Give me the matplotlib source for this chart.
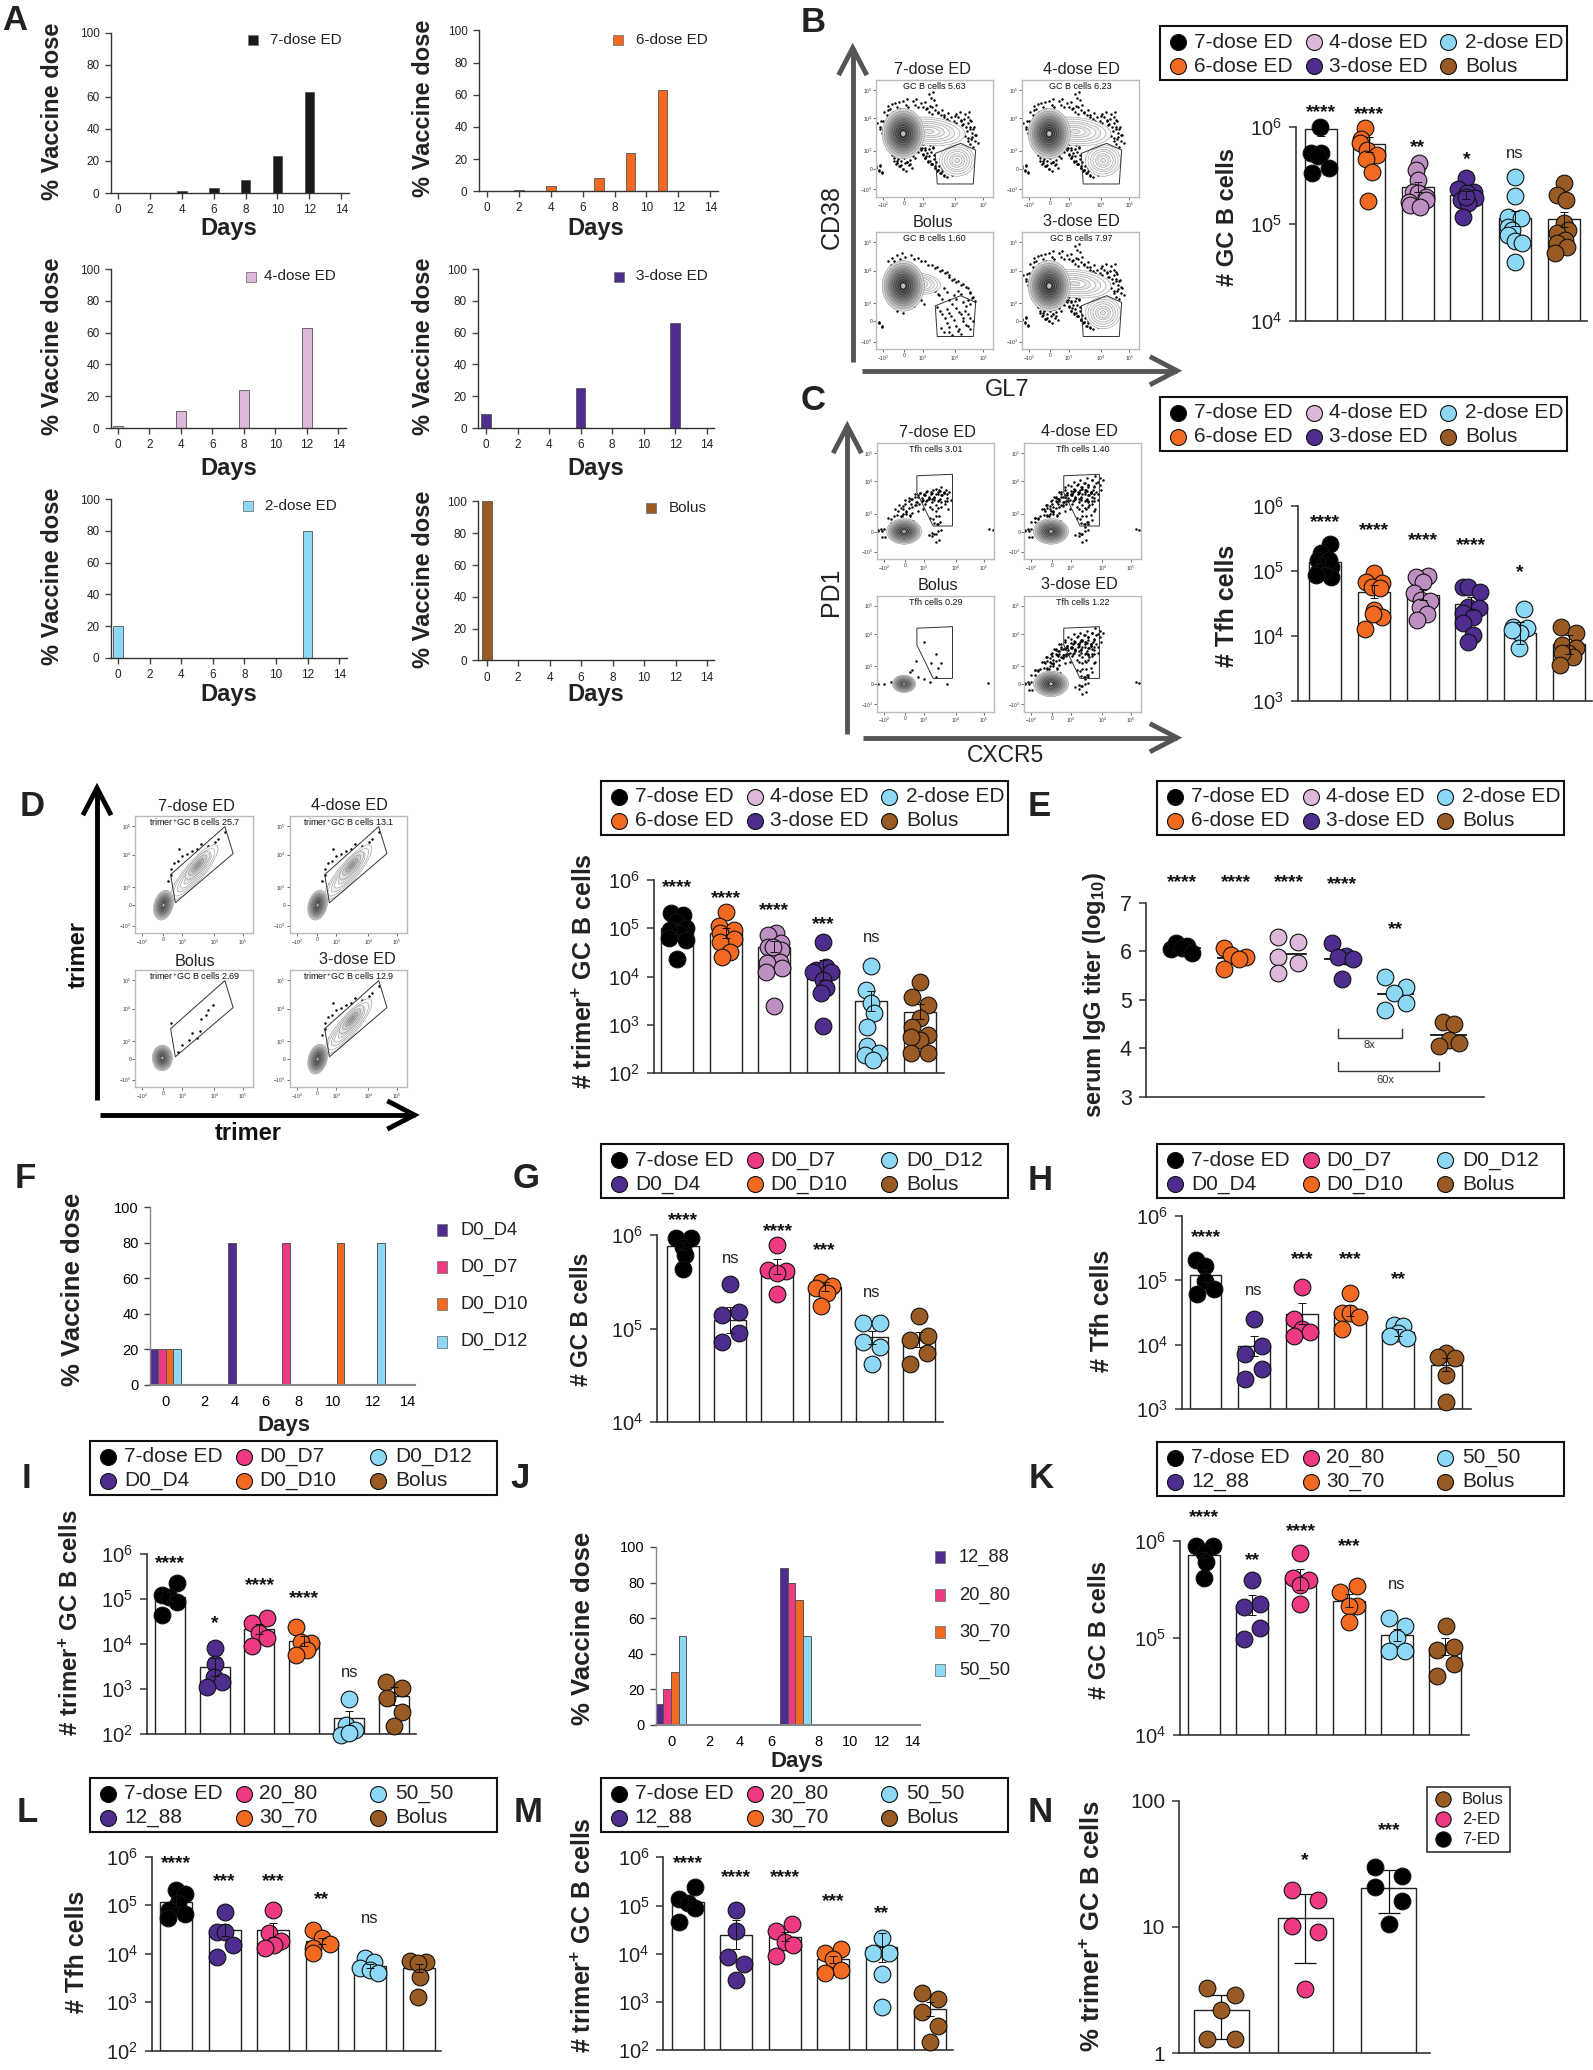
#!/usr/bin/env python3

import numpy as np
import matplotlib
matplotlib.use("Agg")
import matplotlib.pyplot as plt
from matplotlib.patches import Ellipse, Polygon, Rectangle

plt.rcParams['font.family'] = ['Liberation Sans', 'DejaVu Sans']
plt.rcParams['mathtext.fontset'] = 'custom'
plt.rcParams['mathtext.rm'] = 'Liberation Sans'
plt.rcParams['mathtext.bf'] = 'Liberation Sans:bold'
plt.rcParams['mathtext.default'] = 'regular'

W, H = 1593, 2070

BLACK = '#000000'
ORANGE = '#F26A21'
LILAC = '#BD8FC2'
LILAC_PALE = '#DDB8DA'
PURPLE = '#4F2D8F'
SKY = '#8DD8F5'
BROWN = '#9A5A24'
PINK = '#EE3A82'

# panel A, vaccine schedules
a_days = [[2, 4, 6, 8, 10, 12], [0, 2, 4, 7, 9, 11], [0, 4, 8, 12], [0, 6, 12], [0, 12], [0]]
a_dose = [[0.3, 1, 3, 8, 23, 63], [0.3, 1, 3, 8.5, 24, 63], [1.5, 11, 24, 63], [9, 25, 66], [20, 80], [100]]
a_names = ['7-dose ED', '6-dose ED', '4-dose ED', '3-dose ED', '2-dose ED', 'Bolus']
a_colors = ['#1a1a1a', ORANGE, LILAC_PALE, PURPLE, SKY, BROWN]

# panels F and J, schedules
f_names = ['D0_D4', 'D0_D7', 'D0_D10', 'D0_D12']
f_pos = [[-0.7, 3.84], [-0.22, 6.97], [0.22, 10.1], [0.66, 12.43]]
f_dose = [[20, 80], [20, 80], [20, 80], [20, 80]]
f_tick_pos = [0, 2.2, 3.98, 5.76, 7.64, 9.67, 11.96, 14]
j_names = ['12_88', '20_80', '30_70', '50_50']
j_pos = [[-0.66, 6.52], [-0.22, 6.96], [0.22, 7.41], [0.66, 7.88]]
j_dose = [[12, 88], [20, 80], [30, 70], [50, 50]]
j_tick_pos = [0, 2.21, 3.98, 5.82, 8.51, 10.35, 12.19, 14]
day_labels = [0, 2, 4, 6, 8, 10, 12, 14]

# dot and bar values, all as log10
b_mean = [5.98, 5.824, 5.386, 5.30, 5.059, 5.048]
b_sem = [0.07, 0.08, 0.05, 0.04, 0.08, 0.08]
b_dots = [[6.0, 5.738, 5.738, 5.583, 5.531, 5.70],
          [5.993, 5.876, 5.841, 5.766, 5.714, 5.669, 5.534, 5.241],
          [5.634, 5.559, 5.455, 5.328, 5.324, 5.283, 5.248, 5.231, 5.197, 5.179],
          [5.472, 5.359, 5.334, 5.317, 5.248, 5.266, 5.214, 5.283, 5.076],
          [5.483, 5.293, 5.069, 5.059, 4.972, 4.938, 4.886, 4.828, 4.8, 4.61],
          [5.428, 5.3, 5.248, 5.007, 4.938, 4.903, 4.834, 4.8, 4.766, 4.697]]
b_jit = [[-.02, -.2, 0, .17, -.18, -.05],
         [-.08, -.16, -.18, -.05, .16, -.07, .05, -.02],
         [.03, -.03, 0, -.1, 0, .16, .16, -.18, -.16, .05],
         [0, -.17, .15, .01, -.11, .18, .04, 0, -.08],
         [0, 0, -.15, .13, -.15, -.06, -.15, -.01, .15, -.01],
         [0, -.13, .05, 0, .1, -.13, .03, -.13, .08, -.18]]
b_stars = ['****', '****', '**', '*', 'ns']
b_star_h = [6.22, 6.197, 5.855, 5.738, 5.724]

c_mean = [5.136, 4.683, 4.637, 4.493, 4.04, 3.87]
c_sem = [0.08, 0.1, 0.09, 0.1, 0.17, 0.15]
c_dots = [[5.419, 5.275, 5.17, 5.12, 5.07, 4.99, 4.915, 5.02, 4.94, 5.17],
          [4.976, 4.837, 4.812, 4.76, 4.734, 4.40, 4.297, 4.338, 4.112],
          [4.925, 4.904, 4.827, 4.657, 4.554, 4.544, 4.451, 4.338, 4.245],
          [4.76, 4.75, 4.683, 4.451, 4.426, 4.348, 4.297, 4.194, 4.014, 3.90],
          [4.415, 4.132, 4.117, 4.04, 4.09, 3.808],
          [4.143, 4.04, 3.859, 3.808, 3.731, 3.68, 3.731, 3.551]]
c_jit = [[.1, -.08, -.14, 0, .12, -.14, .12, -.03, -.19, .07],
         [0, -.17, .17, -.04, .12, .01, .17, -.01, -.18],
         [.12, -.14, 0, -.18, -.03, .16, -.05, .1, -.12],
         [-.17, -.06, .17, -.06, .15, -.17, .04, -.17, .04, -.06],
         [.08, -.15, .15, 0, -.17, -.03],
         [-.16, .16, -.13, .14, -.02, .08, -.13, -.18]]
c_stars = ['****', '****', '****', '****', '*']
c_star_h = [5.851, 5.723, 5.568, 5.491, 5.079]

d_mean = [5.0, 4.897, 4.62, 4.138, 3.497, 3.276]
d_sem = [0.12, 0.1, 0.12, 0.2, 0.2, 0.15]
d_dots = [[5.324, 5.276, 5.138, 5.0, 4.966, 4.897, 4.793, 4.759, 4.366],
          [5.331, 5.048, 4.966, 4.897, 4.779, 4.724, 4.517, 4.414],
          [4.897, 4.862, 4.69, 4.62, 4.552, 4.62, 4.31, 4.276, 4.172, 4.103, 3.386],
          [4.71, 4.138, 4.207, 4.09, 4.103, 3.931, 3.759, 3.655, 2.979],
          [4.221, 3.724, 3.448, 3.241, 2.966, 2.566, 2.414, 2.379, 2.276],
          [3.897, 3.586, 3.414, 3.138, 2.966, 2.793, 2.69, 2.759, 2.414, 2.414]]
d_jit = [[-.13, .11, -.03, .17, -.16, .04, -.18, .17, 0],
         [0, -.14, .16, -.11, .16, -.11, .09, -.08],
         [.03, -.14, .14, -.14, .14, -.03, .11, -.16, .16, -.18, 0],
         [0, -.13, .07, .17, -.2, 0, .07, -.03, 0],
         [0, -.11, -.01, .05, -.08, -.08, .16, -.14, .03],
         [0, -.16, .17, 0, -.16, .17, 0, -.18, .17, -.18]]
d_stars = ['****', '****', '****', '***', 'ns']
d_star_h = [5.986, 5.759, 5.497, 5.207, 4.807]

e_mean = [6.06, 5.866, 5.935, 5.845, 5.124, 4.271]
e_dots = [[6.045, 6.16, 6.113, 6.06, 5.969],
          [6.058, 5.921, 5.873, 5.832, 5.625],
          [6.285, 6.196, 5.887, 5.749, 5.543],
          [6.175, 5.907, 5.887, 5.838, 5.419],
          [5.474, 5.254, 5.131, 4.938, 4.787],
          [4.546, 4.498, 4.168, 4.1, 4.052]]
e_jit = [[-.21, -.11, .08, -.01, .18],
         [-.21, -.08, .19, .06, -.21],
         [-.21, .17, -.21, .17, -.21],
         [-.2, .07, -.07, .2, -.01],
         [-.19, .19, -.02, .19, -.19],
         [-.11, .09, 0, .2, -.18]]
e_stars = ['****', '****', '****', '****', '**']
e_star_h = [7.55, 7.55, 7.55, 7.50, 6.574]

g_mean = [5.883, 5.09, 5.662, 5.448, 4.907, 4.879]
g_sem = [0.04, 0.14, 0.08, 0.05, 0.07, 0.08]
g_dots = [[5.964, 5.964, 5.875, 5.786, 5.633],
          [5.477, 5.181, 5.146, 4.957, 4.861],
          [5.893, 5.626, 5.619, 5.59, 5.367],
          [5.502, 5.459, 5.431, 5.384, 5.246],
          [5.064, 5.064, 4.861, 4.808, 4.619],
          [5.139, 4.879, 4.922, 4.737, 4.619]]
g_jit = [[-.15, .16, .01, .05, -.01],
         [0, .18, -.18, .18, -.18],
         [-.01, -.19, .18, -.01, -.01],
         [-.07, .16, -.18, .05, -.07],
         [-.19, .18, -.19, .18, 0],
         [0, -.19, .19, .16, -.19]]
g_stars = ['****', 'ns', '****', '***', 'ns']
g_star_h = [6.221, 5.751, 6.107, 5.9, 5.388]

h_mean = [5.08, 3.983, 4.485, 4.531, 4.195, 3.693]
h_sem = [0.1, 0.16, 0.16, 0.09, 0.05, 0.1]
h_dots = [[5.318, 5.224, 4.997, 4.868, 4.785],
          [4.397, 3.983, 3.854, 3.626, 3.471],
          [4.904, 4.397, 4.247, 4.205, 4.138],
          [4.8, 4.5, 4.5, 4.428, 4.247],
          [4.309, 4.293, 4.18, 4.138, 4.102],
          [3.869, 3.807, 3.792, 3.533, 3.109]]
h_jit = [[-.2, 0, 0, .17, -.18],
         [0, .17, -.17, .17, -.17],
         [0, -.17, 0, .18, -.17],
         [0, -.17, 0, .18, -.17],
         [-.09, .1, 0, -.17, .18],
         [0, -.17, .17, 0, 0]]
h_stars = ['****', 'ns', '***', '***', '**']
h_star_h = [5.773, 4.837, 5.431, 5.431, 5.111]

i_mean = [5.06, 3.504, 4.341, 4.074, 2.356, 2.852]
i_sem = [0.1, 0.2, 0.12, 0.12, 0.16, 0.2]
i_dots = [[5.356, 5.096, 5.06, 4.948, 4.652],
          [3.911, 3.556, 3.281, 3.156, 3.044],
          [4.593, 4.467, 4.244, 4.133, 3.963],
          [4.378, 4.022, 4.059, 3.874, 3.763],
          [2.793, 2.207, 2.096, 1.985, 2.02],
          [3.156, 3.037, 2.8, 2.504, 2.185]]
i_jit = [[.17, -.16, -.01, .17, -.18],
         [0, 0, -.01, .17, -.17],
         [.17, -.17, 0, .17, -.17],
         [-.18, .14, -.07, .06, -.18],
         [-.01, -.07, .14, -.18, 0],
         [-.18, .17, -.16, .17, 0]]
i_stars = ['****', '*', '****', '****', 'ns']
i_star_h = [5.933, 4.615, 5.459, 5.17, 3.378]

k_mean = [5.855, 5.339, 5.604, 5.384, 5.029, 4.909]
k_sem = [0.03, 0.1, 0.11, 0.07, 0.06, 0.09]
k_dots = [[5.948, 5.948, 5.873, 5.787, 5.621],
          [5.597, 5.349, 5.322, 5.098, 4.988],
          [5.873, 5.614, 5.597, 5.546, 5.349],
          [5.539, 5.47, 5.332, 5.329, 5.167],
          [5.208, 5.122, 5.002, 4.867, 4.867],
          [5.122, 4.909, 4.874, 4.726, 4.606]]
k_jit = [[-.17, .18, .01, .05, .01],
         [0, .17, -.17, .17, -.17],
         [0, -.16, .17, 0, 0],
         [.17, -.17, .17, 0, 0],
         [-.17, .17, 0, -.17, .17],
         [.01, .18, -.17, .18, -.17]]
k_stars = ['****', '**', '****', '***', 'ns']
k_star_h = [6.31, 5.862, 6.165, 6.01, 5.552]

l_mean = [5.072, 4.488, 4.488, 4.261, 3.753, 3.698]
l_sem = [0.1, 0.12, 0.14, 0.07, 0.04, 0.08]
l_dots = [[5.313, 5.23, 5.038, 4.9, 4.818, 4.742],
          [4.859, 4.454, 4.454, 4.179, 3.938],
          [4.9, 4.419, 4.268, 4.179, 4.124],
          [4.488, 4.33, 4.199, 4.11, 4.007],
          [3.904, 3.835, 3.698, 3.663, 3.595],
          [3.856, 3.835, 3.801, 3.526, 3.1]]
l_jit = [[-.01, .18, .05, -.14, .18, -.17],
         [0, -.16, 0, .17, -.16],
         [-.01, -.08, .16, .03, -.17],
         [-.17, 0, .18, -.17, -.17],
         [-.11, .09, -.2, 0, .17],
         [-.17, .16, -.01, .03, -.01]]
l_stars = ['****', '***', '***', '**', 'ns']
l_star_h = [6.0, 5.622, 5.622, 5.244, 4.722]

m_mean = [5.081, 4.397, 4.356, 3.886, 4.135, 2.857]
m_sem = [0.1, 0.3, 0.1, 0.07, 0.3, 0.15]
m_dots = [[5.392, 5.13, 5.06, 4.943, 4.667],
          [4.908, 4.473, 3.928, 3.782, 3.458],
          [4.618, 4.48, 4.252, 4.183, 3.962],
          [4.093, 4.01, 3.886, 3.665, 3.596],
          [4.335, 4.024, 4.024, 3.582, 2.891],
          [3.181, 3.057, 2.801, 2.511, 2.18]]
m_jit = [[.16, -.17, 0, .16, -.17],
         [0, 0, -.16, .16, 0],
         [.16, -.18, 0, .17, -.18],
         [.16, -.17, 0, .16, -.17],
         [0, -.17, .16, 0, 0],
         [-.17, .16, -.17, .16, 0]]
m_stars = ['****', '****', '****', '***', '**']
m_star_h = [6.0, 5.717, 5.717, 5.219, 4.964]

n_mean = [0.34, 1.069, 1.311]
n_err_lo = [0.111, 0.718, 1.113]
n_err_hi = [0.465, 1.261, 1.449]
n_dots = [[.52, .459, .34, .116, .116],
          [1.293, 1.214, 1.008, .96, .507],
          [1.478, 1.404, 1.314, 1.206, 1.021]]
n_jit = [[-.17, .16, 0, -.17, .16],
         [-.16, .16, -.16, .16, 0],
         [-.16, .16, -.16, .16, 0]]

ed_colors = [BLACK, ORANGE, LILAC, PURPLE, SKY, BROWN]
d0_colors = [BLACK, PURPLE, PINK, ORANGE, SKY, BROWN]

ed_legend = [('7-dose ED', BLACK), ('4-dose ED', LILAC_PALE), ('2-dose ED', SKY),
             ('6-dose ED', ORANGE), ('3-dose ED', PURPLE), ('Bolus', BROWN)]
d0_legend = [('7-dose ED', BLACK), ('D0_D7', PINK), ('D0_D12', SKY),
             ('D0_D4', PURPLE), ('D0_D10', ORANGE), ('Bolus', BROWN)]
ratio_legend = [('7-dose ED', BLACK), ('20_80', PINK), ('50_50', SKY),
                ('12_88', PURPLE), ('30_70', ORANGE), ('Bolus', BROWN)]

# flow plot gates and scattered events, in fractions of the plot frame
gc_gate = [(.504, .371), (.721, .457), (.849, .4), (.829, .109), (.521, .109)]
tfh_gate = [(.34, .72), (.646, .733), (.646, .287), (.48, .287), (.34, .575)]
tri_gate = [(.3, .5), (.76, .91), (.83, .68), (.34, .26)]

gc_ev_x = [.12, .13, .15, .17, .2, .23, .26, .28, .31, .33, .35, .37, .39, .4, .42, .44, .46, .47, .48, .5, .52, .55, .58, .62, .66,
           .08, .09, .12, .18, .25, .33, .4, .45, .5, .55, .6, .66, .7, .74, .78, .8, .82, .76, .72, .8, .84, .47, .03, .05, .02, .02]
gc_ev_y = [.43, .38, .33, .28, .26, .24, .3, .27, .35, .4, .44, .47, .42, .37, .33, .3, .44, .38, .28, .25, .22, .2, .19, .21, .23,
           .62, .7, .75, .77, .79, .79, .77, .73, .74, .7, .67, .65, .68, .62, .68, .6, .55, .52, .57, .45, .48, .85, .6, .55, .23, .22]
bolus_ev_x = [.1, .13, .18, .22, .3, .36, .42, .48, .52, .56, .6, .62, .66, .7, .74, .78, .8, .82, .5, .54, .58, .62, .66, .7, .74, .78,
              .52, .56, .6, .64, .68, .72, .76, .8, .6, .68, .74, .55, .62, .7, .78, .34, .38, .3, .2, .15, .02, .02]
bolus_ev_y = [.75, .78, .8, .82, .8, .78, .75, .72, .7, .68, .66, .62, .6, .58, .56, .52, .48, .44, .5, .46, .52, .42, .46, .5, .4, .42,
              .36, .3, .34, .28, .35, .3, .33, .27, .22, .2, .24, .18, .15, .16, .2, .5, .42, .4, .34, .36, .23, .22]
tfh_ev_x = [.12, .15, .18, .2, .22, .25, .27, .28, .3, .32, .35, .36, .38, .4, .42, .44, .46, .47, .5, .52, .53, .55, .57, .58, .6,
            .5, .48, .52, .5, .47, .04, .01, .99]
tfh_ev_y = [.35, .3, .42, .37, .46, .42, .5, .38, .52, .47, .55, .48, .53, .56, .5, .54, .58, .52, .56, .5, .6, .55, .58, .48, .56,
            .42, .35, .3, .22, .2, .24, .24, .25]
tfh_low_ev_x = [.06, .12, .18, .22, .3, .35, .4, .45, .5, .33, .28, .16, .46, .5, .52, .55, .4, .6, .01, .95]
tfh_low_ev_y = [.24, .26, .3, .28, .36, .3, .28, .26, .3, .44, .34, .22, .42, .5, .38, .42, .6, .24, .24, .25]
tri_ev_x = [.28, .3, .33, .36, .4, .44, .48, .52, .56, .62, .68, .7, .76, .3, .34, .37]
tri_ev_y = [.45, .55, .6, .62, .66, .68, .7, .72, .76, .74, .78, .8, .86, .5, .42, .72]
tri_low_ev_x = [.3, .36, .4, .46, .48, .52, .55, .56, .6, .62, .66]
tri_low_ev_y = [.55, .3, .36, .4, .46, .42, .48, .58, .62, .66, .7]

flow_xtick = [.06, .236, .40, .672, .914]
flow_ytick = [.066, .237, .394, .671, .914]


fig = plt.figure(figsize=(W / 100, H / 100), dpi=100, facecolor='white')

# whole page in pixel coordinates, for legends, arrows and brackets
page = fig.add_axes([0, 0, 1, 1])
page.set_xlim(0, W)
page.set_ylim(H, 0)
page.axis('off')


def px_axes(l, t, r, b):
    return fig.add_axes([l / W, 1 - b / H, (r - l) / W, (b - t) / H])


def txt(x, y, s, **kw):
    kw.setdefault('ha', 'center')
    kw.setdefault('va', 'center')
    page.text(x, y, s, **kw)


def tidy(ax, color='#333333', lw=1.2):
    for side in ['top', 'right']:
        ax.spines[side].set_visible(False)
    for side in ['left', 'bottom']:
        ax.spines[side].set_color(color)
        ax.spines[side].set_linewidth(lw)
    ax.patch.set_alpha(0)


def legend_box(l, t, entries, w=407, h=54):
    page.add_patch(Rectangle((l, t), w, h, fc='white', ec='#111111', lw=1.5))
    for k, (name, col) in enumerate(entries):
        row, column = k // 3, k % 3
        y = t + 16 + 24 * row
        page.plot([l + [18, 154, 288][column]], [y], 'o', ms=11.5, mfc=col, mec='#111111', mew=0.8)
        txt(l + [34, 169, 305][column], y, name, ha='left', fontsize=15, color='#222222')


def schedule(k, l, r, t, b, d0, d14):
    ax = px_axes(l, t, r, b)
    per_day = (d14 - d0) / 14
    ax.set_xlim((l - d0) / per_day, (r - d0) / per_day)
    ax.set_ylim(0, 100)
    ax.bar(a_days[k], a_dose[k], width=0.61, color=a_colors[k], edgecolor='#555555', linewidth=0.6)
    ax.set_xticks(day_labels)
    ax.set_yticks(range(0, 101, 20))
    ax.tick_params(length=4, width=1, color='#444444', labelsize=8.5, pad=4, labelcolor='#222222')
    tidy(ax, lw=1)


def cluster(names, colors, pos, dose, ticks, l, r, t, b, d0, d14, sq_x, sq_y):
    ax = px_axes(l, t, r, b)
    per_day = (d14 - d0) / 14
    ax.set_xlim((l - d0) / per_day, (r - d0) / per_day)
    ax.set_ylim(0, 100)
    for p, v, c in zip(pos, dose, colors):
        ax.bar(p, v, width=0.45, color=c, edgecolor='#555555', linewidth=0.7)
    ax.set_xticks(ticks)
    ax.set_xticklabels(day_labels)
    ax.set_yticks(range(0, 101, 20))
    ax.tick_params(axis='x', length=0, labelsize=10.5, pad=7)
    ax.tick_params(axis='y', length=4, width=1, color='#444444', labelsize=10.5, pad=4)
    tidy(ax, color='#888888', lw=1.5)
    ax.spines['left'].set_linewidth(1)
    for name, c, y in zip(names, colors, sq_y):
        page.add_patch(Rectangle((sq_x - 5, y - 6), 10, 12, fc=c, ec='#777777', lw=0.6))
        txt(sq_x + 19, y, name, ha='left', fontsize=13.2, color='#222222')


def dot_bars(l, r, t, b, first, step, bar_w, decades, mean, sem, dots, jit, colors, stars, star_h):
    ax = px_axes(l, t, r, b)
    ax.set_xlim((l - first) / step, (r - first) / step)
    ax.set_yscale('log')
    ax.set_ylim(10.0 ** decades[0], 10.0 ** decades[-1])
    ax.set_yticks([10.0 ** d for d in decades])
    ax.set_yticklabels([r'$\mathregular{10^{%d}}$' % d for d in decades], fontsize=14.5, color='#222222')
    ax.minorticks_off()
    ax.set_xticks([])
    ax.tick_params(axis='y', length=5, width=1.1, color='#333333', pad=5)
    x = np.arange(len(mean))
    base = 10.0 ** decades[0]
    tops = 10.0 ** np.array(mean)
    ax.bar(x, tops - base, bottom=base, width=bar_w / step, fc='white', ec='#222222', lw=1, zorder=1)
    for i in x:
        ax.errorbar(i, tops[i], yerr=[[tops[i] - 10 ** (mean[i] - sem[i])], [10 ** (mean[i] + sem[i]) - tops[i]]],
                    color='#111111', lw=0.7, capsize=3, capthick=0.7, zorder=4)
        ax.scatter(i + np.array(jit[i]), 10.0 ** np.array(dots[i]), s=145, color=colors[i],
                   edgecolor='#111111', linewidth=0.8, zorder=3, clip_on=False)
    put_stars(ax, stars, star_h, log=True)
    tidy(ax)
    return ax


def put_stars(ax, stars, star_h, log):
    for i, (s, h) in enumerate(zip(stars, star_h)):
        y = 10.0 ** h if log else h
        if s == 'ns':
            ax.annotate(s, (i, y), ha='center', va='center', fontsize=12, color='#222222', annotation_clip=False)
        else:
            ax.annotate(s, (i, y), xytext=(0, -7.9), textcoords='offset points', ha='center', va='baseline',
                        fontsize=13.7, fontweight='bold', color='#111111', annotation_clip=False)


def rings(ax, cx, cy, w, h, angle, shades, edge='#8a8a8a'):
    n = len(shades)
    for i, shade in enumerate(shades):
        f = 1 - i / n
        ax.add_patch(Ellipse((cx, cy), w * f, h * f, angle=angle, fc=shade, ec=edge, lw=0.35, zorder=2))


GREYS = ['#d8d8d8', '#bdbdbd', '#a0a0a0', '#868686', '#6e6e6e', '#5a5a5a', '#484848', '#3a3a3a', '#2a2a2a', '#c0c0c0']
LIGHT = ['#f8f8f8', 'white', '#f0f0f0', 'white', '#eaeaea', 'white', '#e2e2e2']


def flow_ax(l, t, r, b, title, tx, ty, note):
    ax = px_axes(l, t, r, b)
    ax.set_xlim(0, 1)
    ax.set_ylim(0, 1)
    ax.set_xticks(flow_xtick)
    ax.set_xticklabels([r'$\mathregular{-10^{2}}$', '0', r'$\mathregular{10^{3}}$', r'$\mathregular{10^{4}}$', r'$\mathregular{10^{5}}$'])
    ax.set_yticks(flow_ytick)
    ax.set_yticklabels([r'$\mathregular{-10^{3}}$', '0', r'$\mathregular{10^{3}}$', r'$\mathregular{10^{4}}$', r'$\mathregular{10^{5}}$'])
    ax.tick_params(length=2, width=0.5, labelsize=3.5, pad=1, color='#333333', labelcolor='#333333')
    for side in ax.spines.values():
        side.set_color('#bbbbbb')
        side.set_linewidth(1)
    ax.text(0.5, 0.945, note, transform=ax.transAxes, ha='center', va='center', fontsize=6.5, color='#111111', zorder=6)
    txt(tx, ty, title, fontsize=11.7, color='#222222')
    return ax


def events(ax, xs, ys, shifts=((0, 0),)):
    # contours sit on top of the events, as they do in a flow plot
    for dx, dy in shifts:
        ax.scatter(np.array(xs) + dx, np.array(ys) + dy, s=3.2, color='black', linewidths=0, zorder=1.5, clip_on=True)


def gate(ax, pts):
    ax.add_patch(Polygon(pts, closed=True, fc='none', ec='#333333', lw=0.7, zorder=5))


def arrow(x0, y0, x1, y1, color, lw=3.5):
    page.plot([x0, x1], [y0, y1], color=color, lw=lw, solid_capstyle='butt')
    if x0 == x1:
        page.plot([x1 - 13, x1, x1 + 13], [y1 + 25, y1, y1 + 25], color=color, lw=lw, solid_joinstyle='miter')
    else:
        page.plot([x1 - 25, x1, x1 - 25], [y1 - 13, y1, y1 + 13], color=color, lw=lw, solid_joinstyle='miter')


# panel letters
letters = ['A', 'B', 'C', 'D', 'E', 'F', 'G', 'H', 'I', 'J', 'K', 'L', 'M', 'N']
letter_x = [15, 813, 813, 32, 1039, 25, 526, 1040, 27, 520, 1041, 27, 528, 1040]
letter_y = [21, 23, 400, 807, 807, 1179, 1179, 1180, 1478, 1478, 1478, 1812, 1812, 1812]
for s, x, y in zip(letters, letter_x, letter_y):
    txt(x, y, s, fontsize=25, fontweight='bold', color='#222222')

# A
a_box = [(110.7, 349, 32.7, 193, 117.9, 341.3), (478.6, 718.4, 30.4, 191.2, 487.2, 710.2),
         (110.7, 345.9, 269.1, 428.1, 117.9, 338.3), (478, 714.3, 269.1, 428.1, 486.2, 706.6),
         (110.7, 347, 499, 658, 117.9, 339.3), (478, 714.3, 501.4, 660.4, 486.7, 707.1)]
a_sq = [(252.6, 40), (618.4, 40), (250.5, 276.5), (619.4, 276.5), (248, 506.4), (651, 508.3)]
a_tx = [270.4, 636, 264, 636, 265.3, 668.4]
a_days_y = [228, 228, 468, 468, 695, 695]
for k, (l, r, t, b, d0, d14) in enumerate(a_box):
    schedule(k, l, r, t, b, d0, d14)
    sx, sy = a_sq[k]
    page.add_patch(Rectangle((sx - 5, sy - 5), 10, 10, fc=a_colors[k], ec='#777777', lw=0.6))
    txt(a_tx[k], sy, a_names[k], ha='left', fontsize=11, color='#222222')
    mid = 229 if k % 2 == 0 else 596
    txt(mid, a_days_y[k], 'Days', fontsize=17, fontweight='bold', color='#222222')
    txt(53 if k % 2 == 0 else 423, (t + b) / 2 - 2, '% Vaccine dose', rotation=90, fontsize=17, fontweight='bold', color='#222222')

# B flow plots
fl_b = [(876.3, 80, 993.3, 196.7, '7-dose ED', 932.7, 69.3, 'GC B cells 5.63'),
        (1022.3, 80, 1139.3, 196.7, '4-dose ED', 1081, 69.3, 'GC B cells 6.23'),
        (876.3, 232, 993.3, 349.3, 'Bolus', 932.7, 222.3, 'GC B cells 1.60'),
        (1022.3, 232, 1139.3, 349.3, '3-dose ED', 1081, 221, 'GC B cells 7.97')]
gc_shifts = ((0, 0), (.025, -.02), (-.02, .03), (.012, .045))
for l, t, r, b, title, tx, ty, note in fl_b:
    ax = flow_ax(l, t, r, b, title, tx, ty, note)
    is_bolus = title == 'Bolus'
    if is_bolus:
        events(ax, bolus_ev_x, bolus_ev_y, ((0, 0), (.025, -.03)))
        rings(ax, .36, .56, .38, .18, -5, LIGHT)
    else:
        events(ax, gc_ev_x, gc_ev_y, gc_shifts)
        rings(ax, .45, .56, .62, .24, -5, LIGHT)
        rings(ax, .69, .31, .3, .27, 0, LIGHT)
    rings(ax, .23, .54, .36, .43, 0, GREYS)
    gate(ax, gc_gate)

arrow(852.7, 361.7, 852.7, 48, '#555555')
arrow(862, 370.7, 1177, 370.7, '#555555')
txt(831.5, 216.7, 'CD38', rotation=90, fontsize=18, color='#222222')
txt(1007, 390, 'GL7', fontsize=17, color='#222222')

# C flow plots
fl_c = [(877.3, 443.3, 993.7, 559.3, '7-dose ED', 937, 432.3, 'Tfh cells 3.01'),
        (1024.2, 443.3, 1140.6, 559.3, '4-dose ED', 1079.6, 431.7, 'Tfh cells 1.40'),
        (877.3, 595.7, 993.7, 711.7, 'Bolus', 938, 585, 'Tfh cells 0.29'),
        (1024.2, 595.7, 1140.6, 711.7, '3-dose ED', 1079.6, 584.3, 'Tfh cells 1.22')]
for l, t, r, b, title, tx, ty, note in fl_c:
    ax = flow_ax(l, t, r, b, title, tx, ty, note)
    if title == 'Bolus':
        events(ax, tfh_low_ev_x, tfh_low_ev_y)
        rings(ax, .23, .24, .2, .15, 0, GREYS)
    else:
        shifts = ((0, 0), (.02, .02), (-.03, .01), (.03, -.05))
        if title != '7-dose ED':
            shifts = shifts + ((.05, .08), (.08, .12))
        events(ax, tfh_ev_x, tfh_ev_y, shifts)
        rings(ax, .23, .24, .3, .22, 0, GREYS)
    gate(ax, tfh_gate)

arrow(847.3, 734, 847.3, 426, '#555555')
arrow(862.5, 737.7, 1177, 737.7, '#555555')
txt(831.5, 591.7, 'PD1', rotation=90, fontsize=18, color='#222222')
txt(1006, 755, 'CXCR5', fontsize=16.5, color='#222222')

# D flow plots
fl_d = [(135.2, 816, 253.2, 933.3, '7-dose ED', 196.4, 806.7, 'trimer$^{+}$GC B cells 25.7'),
        (289.5, 816, 406.9, 933.3, '4-dose ED', 349.5, 805, 'trimer$^{+}$GC B cells 13.1'),
        (135.2, 970, 253.2, 1087.3, 'Bolus', 194.5, 961.7, 'trimer$^{+}$GC B cells 2.69'),
        (289.5, 970, 406.9, 1087.3, '3-dose ED', 357, 959.3, 'trimer$^{+}$GC B cells 12.9')]
for l, t, r, b, title, tx, ty, note in fl_d:
    ax = flow_ax(l, t, r, b, title, tx, ty, note)
    if title == 'Bolus':
        rings(ax, .23, .25, .17, .22, 0, GREYS)
        events(ax, tri_low_ev_x, tri_low_ev_y)
    else:
        rings(ax, .5, .52, .6, .16, 50, LIGHT)
        rings(ax, .53, .58, .3, .1, 50, ['#e6e6e6', '#cccccc', '#b0b0b0', '#999999'])
        rings(ax, .24, .24, .16, .26, -15, GREYS)
        events(ax, tri_ev_x, tri_ev_y)
    gate(ax, tri_gate)

arrow(97, 1100, 97, 788, 'black')
arrow(100, 1115, 414.5, 1115, 'black')
txt(77.8, 955, 'trimer', rotation=90, fontsize=17, fontweight='bold', color='#111111')
txt(248.7, 1133, 'trimer', fontsize=17, fontweight='bold', color='#111111')

# F, J
cluster(f_names, [PURPLE, PINK, ORANGE, SKY], f_pos, f_dose, f_tick_pos, 150, 414.5, 1207.3, 1385, 165.8, 408,
        442, [1230, 1267, 1304, 1341.7])
txt(284, 1425, 'Days', fontsize=16, fontweight='bold', color='#222222')
txt(73, 1289, '% Vaccine dose', rotation=90, fontsize=18.5, fontweight='bold', color='#222222')

cluster(j_names, [PURPLE, PINK, ORANGE, SKY], j_pos, j_dose, j_tick_pos, 655.6, 920, 1547, 1725, 671, 913.3,
        940, [1557.3, 1595, 1632.3, 1670])
txt(797, 1761, 'Days', fontsize=16, fontweight='bold', color='#222222')
txt(583.5, 1628, '% Vaccine dose', rotation=90, fontsize=18.5, fontweight='bold', color='#222222')

# bar panels
dot_bars(1295.7, 1587, 127.3, 320.7, 1320.6, 48.6, 32, [4, 5, 6], b_mean, b_sem, b_dots, b_jit, ed_colors, b_stars, b_star_h)
legend_box(1160, 26, ed_legend)
txt(1227, 217, '# GC B cells', rotation=90, fontsize=17, fontweight='bold', color='#222222')

dot_bars(1298, 1592, 506.3, 700.7, 1325.2, 48.7, 32, [3, 4, 5, 6], c_mean, c_sem, c_dots, c_jit, ed_colors, c_stars, c_star_h)
legend_box(1160, 396.7, ed_legend)
txt(1227, 606, '# Tfh cells', rotation=90, fontsize=18, fontweight='bold', color='#222222')

dot_bars(653.7, 943.9, 880, 1073.3, 677.3, 48.5, 32, [2, 3, 4, 5, 6], d_mean, d_sem, d_dots, d_jit, ed_colors, d_stars, d_star_h)
legend_box(600.8, 781, ed_legend)
txt(585, 971, '# trimer$^{+}$ GC B cells', rotation=90, fontsize=18, fontweight='bold', color='#222222')

# E is dots with a mean line on a plain axis
ax = px_axes(1145.6, 902.7, 1484, 1096.7)
ax.set_xlim((1145.6 - 1182.3) / 53.3, (1484 - 1182.3) / 53.3)
ax.set_ylim(3, 7)
ax.set_yticks([3, 4, 5, 6, 7])
ax.set_xticks([])
ax.tick_params(axis='y', length=5, width=1.1, color='#333333', labelsize=15.5, pad=5, labelcolor='#222222')
for i in range(6):
    ax.scatter(i + np.array(e_jit[i]), e_dots[i], s=145, color=ed_colors[i] if i != 2 else LILAC_PALE,
               edgecolor='#111111', linewidth=0.8, zorder=3, clip_on=False)
    ax.plot([i - 0.33, i + 0.33], [e_mean[i], e_mean[i]], color='#111111', lw=1.3, zorder=2)
put_stars(ax, e_stars, e_star_h, log=False)
ax.plot([2.915, 2.915, 4.113, 4.113], [4.39, 4.22, 4.22, 4.39], color='#333333', lw=1)
ax.plot([2.915, 2.915, 4.81, 4.81], [3.72, 3.536, 3.536, 3.72], color='#333333', lw=1)
ax.text(3.51, 4.07, '8x', ha='center', va='center', fontsize=8, color='#333333')
ax.text(3.816, 3.34, '60x', ha='center', va='center', fontsize=8, color='#333333')
tidy(ax)
legend_box(1157.3, 781, ed_legend)
txt(1094, 995.5, 'serum IgG titer (log$_{10}$)', rotation=90, fontsize=17, fontweight='bold', color='#222222')

dot_bars(657, 942.6, 1235, 1422.3, 683, 47.2, 32, [4, 5, 6], g_mean, g_sem, g_dots, g_jit, d0_colors, g_stars, g_star_h)
legend_box(600.8, 1144, d0_legend)
txt(582, 1319, '# GC B cells', rotation=90, fontsize=16.5, fontweight='bold', color='#222222')

dot_bars(1181.5, 1470.5, 1216, 1409.3, 1205.4, 48.2, 31.8, [3, 4, 5, 6], h_mean, h_sem, h_dots, h_jit, d0_colors, h_stars, h_star_h)
legend_box(1157.3, 1144, d0_legend)
txt(1102, 1310.8, '# Tfh cells', rotation=90, fontsize=18, fontweight='bold', color='#222222')

dot_bars(146.7, 415.8, 1554.3, 1734.3, 169.6, 44.9, 30, [2, 3, 4, 5, 6], i_mean, i_sem, i_dots, i_jit, d0_colors, i_stars, i_star_h)
legend_box(90, 1441, d0_legend)
txt(71.4, 1623, '# trimer$^{+}$ GC B cells', rotation=90, fontsize=17.3, fontweight='bold', color='#222222')

dot_bars(1179.7, 1469, 1541, 1734.7, 1203.9, 48.26, 31.8, [4, 5, 6], k_mean, k_sem, k_dots, k_jit, d0_colors, k_stars, k_star_h)
legend_box(1157.3, 1441.7, ratio_legend)
txt(1100, 1630, '# GC B cells', rotation=90, fontsize=17, fontweight='bold', color='#222222')

dot_bars(151.8, 441.3, 1856.7, 2050.7, 176, 48.5, 32, [2, 3, 4, 5, 6], l_mean, l_sem, l_dots, l_jit, d0_colors, l_stars, l_star_h)
legend_box(90, 1777.7, ratio_legend)
txt(76.5, 1952, '# Tfh cells', rotation=90, fontsize=18, fontweight='bold', color='#222222')

dot_bars(663.3, 953.4, 1857.3, 2050.3, 687.5, 48.5, 32, [2, 3, 4, 5, 6], m_mean, m_sem, m_dots, m_jit, d0_colors, m_stars, m_star_h)
legend_box(600.8, 1777.7, ratio_legend)
txt(583.5, 1935, '# trimer$^{+}$ GC B cells', rotation=90, fontsize=18, fontweight='bold', color='#222222')

# N has its own axis labels and legend
ax = px_axes(1178.9, 1800.7, 1430.4, 2053.3)
ax.set_xlim((1178.9 - 1221.3) / 83.75, (1430.4 - 1221.3) / 83.75)
ax.set_yscale('log')
ax.set_ylim(1, 100)
ax.set_yticks([1, 10, 100])
ax.set_yticklabels(['1', '10', '100'], fontsize=15, color='#222222')
ax.minorticks_off()
ax.set_xticks([])
ax.tick_params(axis='y', length=5, width=1.1, color='#333333', pad=5)
n_colors = [BROWN, PINK, BLACK]
n_tops = 10.0 ** np.array(n_mean)
ax.bar(range(3), n_tops - 1, bottom=1, width=55 / 83.75, fc='white', ec='#222222', lw=1, zorder=1)
for i in range(3):
    ax.errorbar(i, n_tops[i], yerr=[[n_tops[i] - 10 ** n_err_lo[i]], [10 ** n_err_hi[i] - n_tops[i]]],
                color='#111111', lw=0.9, capsize=8, capthick=0.9, zorder=2)
    ax.scatter(i + np.array(n_jit[i]), 10.0 ** np.array(n_dots[i]), s=145, color=n_colors[i],
               edgecolor='#111111', linewidth=0.8, zorder=3, clip_on=False)
put_stars(ax, ['', '*', '***'], [1.0, 1.575, 1.815], log=True)
tidy(ax)
page.add_patch(Rectangle((1427.4, 1787.3), 82.1, 65, fc='white', ec='#333333', lw=1.2))
for name, c, y in zip(['Bolus', '2-ED', '7-ED'], n_colors, [1799.3, 1819.3, 1839.3]):
    page.plot([1442.5], [y], 'o', ms=11, mfc=c, mec='#111111', mew=0.8)
    txt(1462, y, name, ha='left', fontsize=12, color='#222222')
txt(1092.7, 1926.7, '% trimer$^{+}$ GC B cells', rotation=90, fontsize=18.5, fontweight='bold', color='#222222')

fig.savefig('out.png', dpi=100, facecolor='white')
